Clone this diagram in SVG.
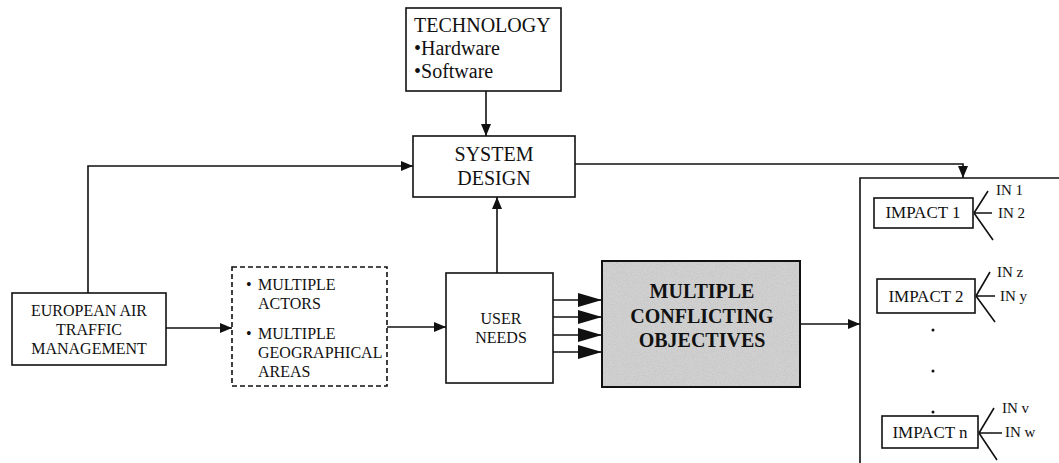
<svg xmlns="http://www.w3.org/2000/svg" width="1059" height="463" viewBox="0 0 1059 463" font-family="'Liberation Serif', serif">
  <style>
    .box { fill: #ffffff; stroke: #111111; stroke-width: 1.6; }
    .dash { fill: #ffffff; stroke: #111111; stroke-width: 1.6; stroke-dasharray: 5 3; }
    .line { fill: none; stroke: #111111; stroke-width: 1.6; }
    text { font-family: "Liberation Serif", serif; fill: #111111; }
    .c { text-anchor: middle; }
    .b { font-weight: bold; }
  </style>
  <defs>
    <marker id="arr" viewBox="0 0 12 10" refX="12" refY="5" markerWidth="12" markerHeight="10" markerUnits="userSpaceOnUse" orient="auto">
      <path d="M0,0 L12,5 L0,10 Z" fill="#111111"/>
    </marker>
    <marker id="arrBig" viewBox="0 0 24 14" refX="24" refY="7" markerWidth="24" markerHeight="14" markerUnits="userSpaceOnUse" orient="auto">
      <path d="M0,0 L24,7 L0,14 Z" fill="#111111"/>
    </marker>
    <!-- halftone speckle for the shaded objectives box -->
    <filter id="grain" x="0" y="0" width="100%" height="100%">
      <feTurbulence type="fractalNoise" baseFrequency="0.9" numOctaves="2" seed="3" result="n"/>
      <feColorMatrix in="n" type="matrix" values="0 0 0 0 0.45  0 0 0 0 0.45  0 0 0 0 0.45  0 0 0 1.1 -0.5" result="dots"/>
      <feComposite in="dots" in2="SourceGraphic" operator="in"/>
    </filter>
  </defs>

  <!-- connectors -->
  <g id="connectors">
    <path class="line" d="M486,91 V136" marker-end="url(#arr)"/>
    <path class="line" d="M88,293 V166 H413" marker-end="url(#arr)"/>
    <path class="line" d="M497,273 V197" marker-end="url(#arr)"/>
    <path class="line" d="M575,164 H963 V178" marker-end="url(#arr)"/>
    <path class="line" d="M166,328 H232" marker-end="url(#arr)"/>
    <path class="line" d="M387,327 H446" marker-end="url(#arr)"/>
    <path class="line" d="M553,300 H602" marker-end="url(#arrBig)"/>
    <path class="line" d="M553,317 H602" marker-end="url(#arrBig)"/>
    <path class="line" d="M553,335 H602" marker-end="url(#arrBig)"/>
    <path class="line" d="M553,352 H602" marker-end="url(#arrBig)"/>
    <path class="line" d="M800,324 H860" marker-end="url(#arr)"/>
  </g>

  <g id="technology">
    <rect class="box" x="406" y="8" width="155" height="83"/>
    <text x="414" y="32" font-size="20">TECHNOLOGY</text>
    <text x="414" y="55" font-size="20">•Hardware</text>
    <text x="414" y="78" font-size="20">•Software</text>
  </g>

  <g id="system-design">
    <rect class="box" x="413" y="136" width="162" height="61"/>
    <text class="c" x="494" y="161" font-size="20">SYSTEM</text>
    <text class="c" x="494" y="185" font-size="20">DESIGN</text>
  </g>

  <g id="eatm">
    <rect class="box" x="12" y="293" width="154" height="72"/>
    <text class="c" x="89" y="316" font-size="16">EUROPEAN AIR</text>
    <text class="c" x="89" y="335" font-size="16">TRAFFIC</text>
    <text class="c" x="89" y="354" font-size="16">MANAGEMENT</text>
  </g>

  <g id="actors-areas">
    <rect class="dash" x="232" y="267" width="155" height="119"/>
    <text x="246" y="290" font-size="16">•</text>
    <text x="258" y="290" font-size="16">MULTIPLE</text>
    <text x="258" y="309" font-size="16">ACTORS</text>
    <text x="246" y="339" font-size="16">•</text>
    <text x="258" y="339" font-size="16">MULTIPLE</text>
    <text x="258" y="358" font-size="16">GEOGRAPHICAL</text>
    <text x="258" y="377" font-size="16">AREAS</text>
  </g>

  <g id="user-needs">
    <rect class="box" x="446" y="273" width="107" height="110"/>
    <text class="c" x="501" y="324" font-size="16">USER</text>
    <text class="c" x="501" y="343" font-size="16">NEEDS</text>
  </g>

  <g id="objectives">
    <rect x="602" y="261" width="198" height="126" fill="#d0d0d0" stroke="#111111" stroke-width="2"/>
    <rect x="603" y="262" width="196" height="124" fill="#d0d0d0" filter="url(#grain)"/>
    <text class="c b" x="702" y="298" font-size="20">MULTIPLE</text>
    <text class="c b" x="702" y="323" font-size="20">CONFLICTING</text>
    <text class="c b" x="702" y="347" font-size="20">OBJECTIVES</text>
  </g>

  <g id="impacts">
    <path class="line" d="M860,463 V178 H1059"/>

    <g id="impact-1">
      <rect class="box" x="874" y="198" width="99" height="30"/>
      <text class="c" x="923" y="218" font-size="17">IMPACT 1</text>
      <path class="line" d="M974,213 L988,191 M974,213 H992 M974,213 L993,240"/>
      <text x="996" y="195" font-size="15">IN 1</text>
      <text x="998" y="218" font-size="15">IN 2</text>
    </g>

    <g id="impact-2">
      <rect class="box" x="877" y="279" width="98" height="34"/>
      <text class="c" x="926" y="302" font-size="17">IMPACT 2</text>
      <path class="line" d="M976,296 L990,272 M976,296 H995 M976,296 L995,322"/>
      <text x="997" y="277" font-size="15">IN z</text>
      <text x="1000" y="301" font-size="15">IN y</text>
    </g>

    <g id="ellipsis">
      <circle cx="933" cy="330" r="1.5" fill="#111111"/>
      <circle cx="933" cy="371" r="1.5" fill="#111111"/>
      <circle cx="933" cy="412" r="1.5" fill="#111111"/>
    </g>

    <g id="impact-n">
      <rect class="box" x="882" y="416" width="96" height="32"/>
      <text class="c" x="930" y="438" font-size="17">IMPACT n</text>
      <path class="line" d="M979,433 L994,408 M979,433 H1002 M979,433 L997,460"/>
      <text x="1002" y="413" font-size="15">IN v</text>
      <text x="1005" y="437" font-size="15">IN w</text>
    </g>
  </g>
</svg>
